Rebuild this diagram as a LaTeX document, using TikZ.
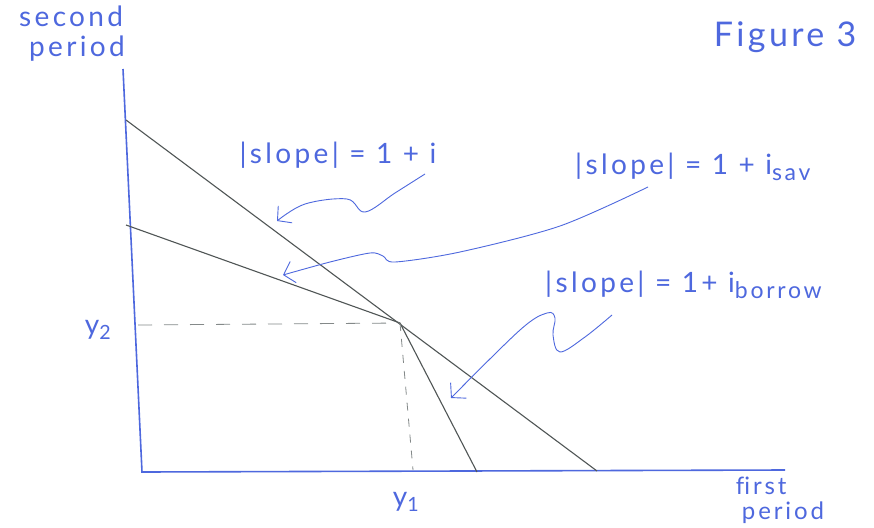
\documentclass[tikz,border=0pt]{standalone}
\usepackage{fontspec}
\setmainfont{Lato}
\usetikzlibrary{arrows.meta}
\definecolor{pen}{RGB}{78,104,222}
\definecolor{pencil}{RGB}{80,86,86}
\newcommand\lowsub[1]{\raisebox{-6pt}{\fontsize{23}{23}\selectfont #1}}

\begin{document}
\begin{tikzpicture}[x=1pt, y=-1pt,
  hand/.style={text=pen, font=\fontsize{28}{30}\selectfont\addfontfeatures{LetterSpace=12}, inner sep=0pt},
  axis/.style={draw=pen, line width=1.6pt},
  budget/.style={draw=pencil, line width=1.1pt},
  guide/.style={draw=pencil!70, line width=0.8pt, dash pattern=on 14pt off 12pt},
  wiggle/.style={draw=pen, line width=0.9pt, -{Straight Barb[length=10pt, width=22pt]}}]
  \useasboundingbox (0,0) rectangle (874,527);
  \fill[white] (0,0) rectangle (874,527);

  % axes
  \coordinate (ytop) at (123,69);
  \coordinate (O) at (142,472);
  \coordinate (xend) at (785,470);
  \draw[axis] (ytop) -- (O) -- (xend);

  % budget lines
  \coordinate (A) at (126,120);
  \coordinate (B) at (597,471);
  \coordinate (C) at (126,225);
  \coordinate (K) at (400,323);
  \coordinate (D) at (477,472);
  \draw[budget] (A) -- (B);
  \draw[budget] (C) -- (K) -- (D);

  % endowment point
  \coordinate (Ky) at (138,325);
  \coordinate (Kx) at (413,470);
  \draw[guide] (Ky) -- (K);
  \draw[guide, dash pattern=on 8pt off 8pt] (K) -- (Kx);

  % axis labels
  \node[hand, align=left] (sp) at (72,34) {second\\\hspace{10pt}period};
  \node[hand, align=left, font=\fontsize{24}{25}\selectfont\addfontfeatures{LetterSpace=12}] (fp) at (780,500) {f\kern0pt irst\\\hspace{6pt}period};
  \node[hand] (ytwo) at (98,330) {y\textsubscript{2}};
  \node[hand] (yone) at (406,502) {y\textsubscript{1}};
  \node[hand, font=\fontsize{34}{36}\selectfont\addfontfeatures{LetterSpace=10}] (fig) at (785,37) {Figure 3};

  % slope labels
  \node[hand] (lab1) at (338,155) {|slope| = 1 + i};
  \node[hand, anchor=west] (lab2) at (575,167) {|slope| = 1 + i\lowsub{sav}};
  \node[hand, anchor=west] (lab3) at (545,285) {|slope| = 1+ i\lowsub{borrow}};

  % arrows
  \coordinate (w1s) at (425,174);
  \coordinate (w1e) at (277,221);
  \draw[wiggle] plot[smooth, tension=0.6] coordinates {(w1s) (395,193) (365,212) (347,199) (305,204) (w1e)};
  \coordinate (w2s) at (648,187);
  \coordinate (w2e) at (283,275);
  \draw[wiggle] plot[smooth, tension=0.5] coordinates {(w2s) (560,226) (460,252) (395,262) (383,256) (370,253) (330,262) (w2e)};
  \coordinate (w3s) at (612,315);
  \coordinate (w3e) at (451,398);
  \draw[wiggle] plot[smooth, tension=0.6] coordinates {(w3s) (585,337) (560,352) (553,335) (555,318) (547,313) (520,330) (w3e)};
\end{tikzpicture}
\end{document}
